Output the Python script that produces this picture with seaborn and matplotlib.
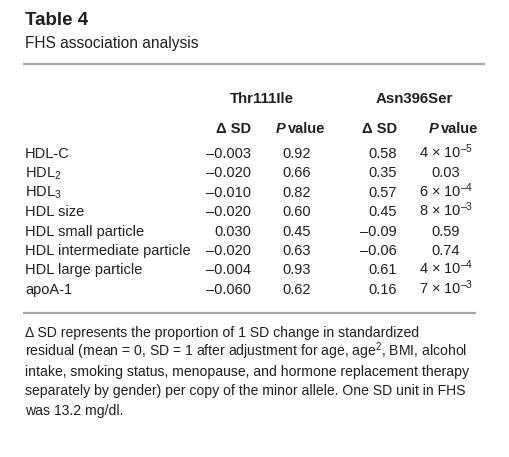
import matplotlib
matplotlib.use("Agg")
import matplotlib.pyplot as plt
import seaborn as sns

# table content
traits = ["HDL-C", "HDL$_2$", "HDL$_3$", "HDL size", "HDL small particle",
          "HDL intermediate particle", "HDL large particle", "apoA-1"]
thr_sd = [-0.003, -0.020, -0.010, -0.020, 0.030, -0.020, -0.004, -0.060]
thr_p = [0.92, 0.66, 0.82, 0.60, 0.45, 0.63, 0.93, 0.62]
asn_sd = [0.58, 0.35, 0.57, 0.45, -0.09, -0.06, 0.61, 0.16]
asn_p = [4e-5, 0.03, 6e-4, 8e-3, 0.59, 0.74, 4e-4, 7e-3]
groups = ["Thr111Ile", "Asn396Ser"]
footnote = [
    "\u0394 SD represents the proportion of 1 SD change in standardized",
    "residual (mean = 0, SD = 1 after adjustment for age, age$^2$, BMI, alcohol",
    "intake, smoking status, menopause, and hormone replacement therapy",
    "separately by gender) per copy of the minor allele. One SD unit in FHS",
    "was 13.2 mg/dl.",
]

sns.set_theme(style="white")
FONT = ["Liberation Sans", "DejaVu Sans"]
plt.rcParams["font.family"] = FONT
plt.rcParams["mathtext.fontset"] = "custom"
plt.rcParams["mathtext.rm"] = "Liberation Sans"
plt.rcParams["mathtext.it"] = "Liberation Sans:italic"
plt.rcParams["mathtext.bf"] = "Liberation Sans:bold"

INK = "#231f20"
RULE = "#a6a6a6"
BODY = 10.5


def fmt_sd(v, nd):
    return f"{v:.{nd}f}".replace("-", "\u2013")


def fmt_p(p):
    if p >= 0.01:
        return f"{p:.2f}"
    exp = 0
    m = p
    while m < 1:
        m *= 10
        exp -= 1
    return f"{round(m):d} \u00d7 10$^{{\u2013{-exp}}}$"


fig = plt.figure(figsize=(5.09, 4.57), dpi=100)
ax = fig.add_axes([0, 0, 1, 1])
ax.set_xlim(0, 509)
ax.set_ylim(457, 0)
ax.axis("off")

ax.text(25, 25, "Table 4", fontsize=13.5, fontweight="bold", color=INK,
        va="baseline")
ax.text(25, 48, "FHS association analysis", fontsize=11.2, color=INK,
        va="baseline")
ax.hlines(64, 23, 485, color=RULE, lw=1.6)

# group headers
for g, xc in zip(groups, [262, 414]):
    ax.text(xc, 103, g, fontsize=10.8, fontweight="bold", color=INK,
            ha="center", va="baseline")

# column headers
fig.canvas.draw()
renderer = fig.canvas.get_renderer()
hy = 133
for xr, xp in [(251, 301), (397, 454)]:
    ax.text(xr, hy, "\u0394 SD", fontsize=BODY, fontweight="bold", color=INK,
            ha="right", va="baseline")
    t1 = ax.text(0, hy, "P", fontsize=BODY, fontweight="bold", style="italic",
                 color=INK, ha="left", va="baseline")
    t2 = ax.text(0, hy, "value", fontsize=BODY, fontweight="bold", color=INK,
                 ha="left", va="baseline")
    w1 = t1.get_window_extent(renderer).width * 509 / fig.bbox.width
    w2 = t2.get_window_extent(renderer).width * 509 / fig.bbox.width
    gap = 2.5
    x0 = xp - (w1 + gap + w2) / 2
    t1.set_x(x0)
    t2.set_x(x0 + w1 + gap)

# body rows
y0, dy = 158, 19.4
for i, name in enumerate(traits):
    y = y0 + i * dy
    ax.text(25, y, name, fontsize=BODY, color=INK, va="baseline")
    ax.text(251, y, fmt_sd(thr_sd[i], 3), fontsize=BODY, color=INK,
            ha="right", va="baseline")
    ax.text(297, y, fmt_p(thr_p[i]), fontsize=BODY, color=INK,
            ha="center", va="baseline")
    ax.text(397, y, fmt_sd(asn_sd[i], 2), fontsize=BODY, color=INK,
            ha="right", va="baseline")
    ax.text(446, y, fmt_p(asn_p[i]), fontsize=BODY, color=INK,
            ha="center", va="baseline")

ax.hlines(313, 23, 476, color=RULE, lw=1.6)

# footnote
for j, line in enumerate(footnote):
    ax.text(25, 337 + j * 19.4, line, fontsize=10.1, color=INK, va="baseline")

fig.savefig("out.png", dpi=100)
plt.close(fig)
